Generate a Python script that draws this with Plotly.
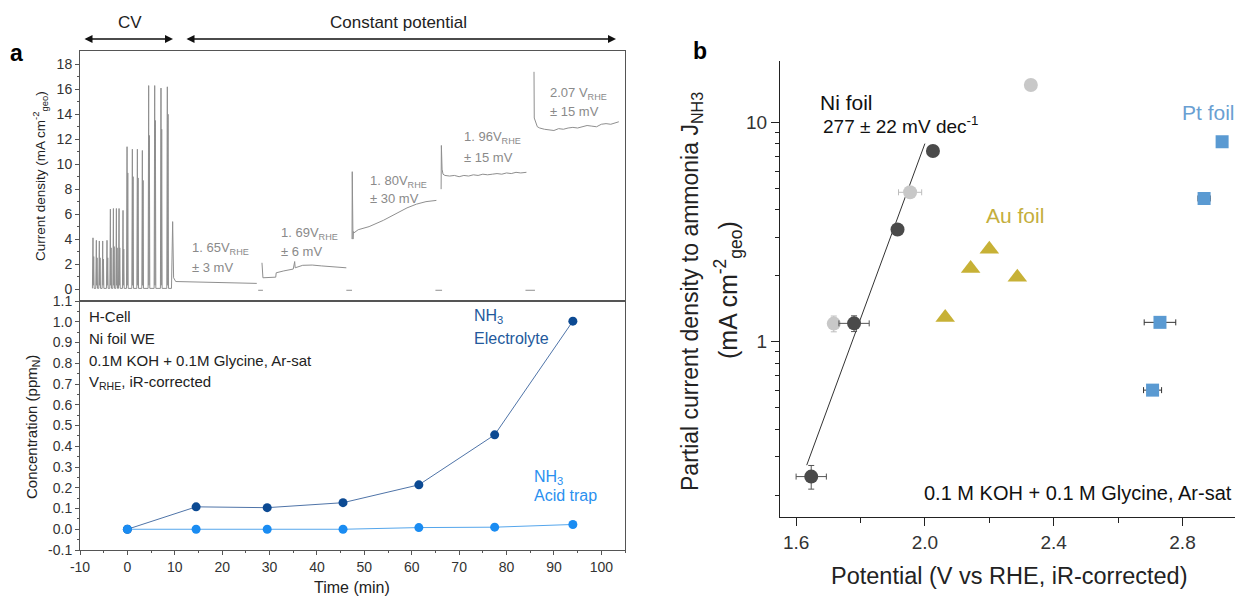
import plotly.graph_objects as go

W, H = 1235, 596
FONT = "Liberation Sans, Arial, sans-serif"

# ---------------- Panel a (top): current density trace ----------------
cv_peak_t = [-7.26, -6.55, -5.92, -5.21, -4.30, -3.59, -2.95, -2.32, -1.76, -0.92,
             -0.07, 1.05, 2.11, 3.16, 4.49, 5.76, 7.09, 8.43]
cv_peak_j = [4.1, 3.9, 3.85, 3.85, 3.9, 6.4, 6.45, 6.45, 6.45, 6.3,
             11.4, 11.2, 11.2, 11.1, 16.3, 16.3, 16.1, 16.2]
cv_inner_j = [2.6, 2.5, 2.5, 2.4, 2.5, 3.3, 3.4, 3.3, 3.3, 3.2,
              9.3, 9.0, 8.9, 8.7, 12.3, 13.5, 12.8, 14.0]

seg165_t = [9.3, 9.55, 9.75, 10.2, 12, 15, 18, 21, 24, 27.3]
seg165_j = [0.05, 5.4, 0.9, 0.6, 0.58, 0.55, 0.52, 0.5, 0.47, 0.45]
seg169_t = [28.4, 28.45, 28.6, 31.3, 31.4, 33, 35, 35.3, 35.4, 37, 39, 41, 43, 46.2]
seg169_j = [2.1, 0.95, 0.9, 0.95, 1.3, 1.45, 1.6, 2.2, 1.7, 1.9, 1.92, 1.85, 1.8, 1.7]
seg180_t = [47.4, 47.45, 47.6, 47.7, 47.8, 48.7, 51, 54, 57, 59, 61, 63, 65.2]
seg180_j = [4.0, 9.4, 4.0, 4.6, 4.5, 4.75, 5.0, 5.5, 6.1, 6.5, 6.8, 7.0, 7.1]
seg196_t = [66.2, 66.25, 66.4, 66.6, 67, 68, 69, 70, 71, 72, 73, 74, 75, 76, 77, 78, 79, 80, 81, 82, 83, 84.2]
seg196_j = [8.0, 11.5, 9.6, 9.2, 9.1, 9.05, 9.1, 9.0, 9.1, 9.05, 9.15, 9.1, 9.2, 9.15, 9.2, 9.25, 9.2, 9.3, 9.25, 9.35, 9.3, 9.35]
seg207_t = [85.8, 85.85, 86.5, 87, 88, 89, 90, 91, 92, 93, 94, 95, 96, 97, 98, 99, 100, 101, 102, 103, 103.7]
seg207_j = [17.4, 13.7, 13.0, 12.9, 12.8, 12.75, 12.7, 12.85, 12.8, 12.9, 12.95, 12.9, 13.0, 13.1, 13.05, 13.0, 13.2, 13.25, 13.2, 13.35, 13.4]
gap_t = [[27.6, 28.6], [46.2, 47.4], [65.0, 66.4], [84.0, 86.0]]
gap_j = -0.1

# ---------------- Panel a (bottom): concentration ----------------
time_min = [0, 14.5, 29.5, 45.5, 61.5, 77.5, 94]
nh3_electrolyte = [0.0, 0.108, 0.104, 0.128, 0.214, 0.455, 1.003]
nh3_acid_trap = [0.0, 0.0, 0.0, 0.0, 0.008, 0.01, 0.023]

# ---------------- Panel b ----------------
ni_x = [1.647, 1.780, 1.915, 2.025]
ni_y = [0.243, 1.213, 3.25, 7.4]
ni_xerr = [0.047, 0.047, 0, 0]
ni_yerr = [0.03, 0.1, 0, 0]
ni_light_x = [1.717, 1.954, 2.329]
ni_light_y = [1.21, 4.8, 14.8]
ni_light_xerr = [0, 0.036, 0]
ni_light_yerr = [0.1, 0, 0]
au_x = [2.063, 2.142, 2.200, 2.287]
au_y = [1.29, 2.16, 2.64, 1.97]
pt_x = [2.707, 2.730, 2.867, 2.923]
pt_y = [0.602, 1.226, 4.5, 8.16]
pt_xerr = [0.028, 0.049, 0.019, 0.015]
fit_x = [1.633, 2.0]
fit_y = [0.274, 8.0]

# build the current trace path
cur_t, cur_j = [], []
for t, h, hi in zip(cv_peak_t, cv_peak_j, cv_inner_j):
    cur_t += [t - 0.12, t, t + 0.06, t + 0.15, t + 0.24]
    cur_j += [0.05, h, 0.3, hi, 0.05]
cur_t += seg165_t
cur_j += seg165_j
for st, sj in [(seg169_t, seg169_j), (seg180_t, seg180_j), (seg196_t, seg196_j), (seg207_t, seg207_j)]:
    cur_t += [None] + st
    cur_j += [None] + sj
for g in gap_t:
    cur_t += [None] + g
    cur_j += [None, gap_j, gap_j]


def px(x):
    return x / W


def py(y):
    return 1 - y / H


fig = go.Figure()

GRAY = "#8f8f8f"
fig.add_trace(go.Scatter(x=cur_t, y=cur_j, mode="lines", line=dict(color=GRAY, width=1),
                         xaxis="x", yaxis="y", showlegend=False, hoverinfo="skip"))

fig.add_trace(go.Scatter(x=time_min, y=nh3_electrolyte, mode="lines+markers",
                         line=dict(color="#4f74a8", width=1),
                         marker=dict(color="#0c4a93", size=9),
                         xaxis="x2", yaxis="y2", showlegend=False))
fig.add_trace(go.Scatter(x=time_min, y=nh3_acid_trap, mode="lines+markers",
                         line=dict(color="#55a6ec", width=1),
                         marker=dict(color="#1a8cf2", size=9),
                         xaxis="x2", yaxis="y2", showlegend=False))

# panel b
fig.add_trace(go.Scatter(x=fit_x, y=fit_y, mode="lines", line=dict(color="#333333", width=1),
                         xaxis="x3", yaxis="y3", showlegend=False))
fig.add_trace(go.Scatter(x=ni_light_x, y=ni_light_y, mode="markers",
                         marker=dict(color="#c8c8c8", size=14),
                         error_x=dict(type="data", array=ni_light_xerr, color="#bdbdbd", thickness=1, width=3),
                         error_y=dict(type="data", array=ni_light_yerr, color="#bdbdbd", thickness=1, width=3),
                         xaxis="x3", yaxis="y3", showlegend=False))
fig.add_trace(go.Scatter(x=ni_x, y=ni_y, mode="markers",
                         marker=dict(color="#4a4a4a", size=14),
                         error_x=dict(type="data", array=ni_xerr, color="#555555", thickness=1, width=3),
                         error_y=dict(type="data", array=ni_yerr, color="#555555", thickness=1, width=3),
                         xaxis="x3", yaxis="y3", showlegend=False))
fig.add_trace(go.Scatter(x=au_x, y=au_y, mode="markers",
                         marker=dict(color="#c7b136", size=17, symbol="triangle-up"),
                         xaxis="x3", yaxis="y3", showlegend=False))
fig.add_trace(go.Scatter(x=pt_x, y=pt_y, mode="markers",
                         marker=dict(color="#5a9ad2", size=13, symbol="square"),
                         error_x=dict(type="data", array=pt_xerr, color="#333333", thickness=1, width=3),
                         xaxis="x3", yaxis="y3", showlegend=False))

AX_A = dict(showline=True, linecolor="#555555", linewidth=1, mirror=True, showgrid=False,
            zeroline=False, tickfont=dict(size=14, color="#333333", family=FONT),
            ticks="outside", ticklen=4, tickcolor="#555555", automargin=False)
xa_dom = [px(80), px(625)]
AX_B = dict(showline=True, linecolor="#222222", linewidth=1.3, showgrid=False, zeroline=False,
            tickfont=dict(size=19, color="#333333", family=FONT), ticks="outside",
            ticklen=8, tickcolor="#222222", tickwidth=1.2, automargin=False)

fig.update_layout(
    width=W, height=H, margin=dict(l=0, r=0, t=0, b=0, autoexpand=False),
    paper_bgcolor="white", plot_bgcolor="white",
    font=dict(family=FONT, color="#222222"),
    xaxis=dict(AX_A, domain=xa_dom, range=[-10, 105], anchor="y", showticklabels=False, ticks=""),
    yaxis=dict(AX_A, domain=[py(301), py(51)], range=[-0.96, 19.07], anchor="x",
               tickvals=[0, 2, 4, 6, 8, 10, 12, 14, 16, 18],
               minor=dict(ticks="outside", ticklen=2, tickvals=[1, 3, 5, 7, 9, 11, 13, 15, 17], tickcolor="#555555")),
    xaxis2=dict(AX_A, domain=xa_dom, range=[-10, 105], anchor="y2",
                tickvals=[-10, 0, 10, 20, 30, 40, 50, 60, 70, 80, 90, 100],
                ticktext=["-10", "0", "10", "20", "30", "40", "50", "60", "70", "80", "90", "100"],
                minor=dict(ticks="outside", ticklen=2, tickvals=[-5, 5, 15, 25, 35, 45, 55, 65, 75, 85, 95, 105],
                           tickcolor="#555555")),
    yaxis2=dict(AX_A, domain=[py(550), py(301)], range=[-0.1, 1.1], anchor="x2",
                tickvals=[-0.1, 0, 0.1, 0.2, 0.3, 0.4, 0.5, 0.6, 0.7, 0.8, 0.9, 1.0, 1.1],
                ticktext=["-0.1", "0.0", "0.1", "0.2", "0.3", "0.4", "0.5", "0.6", "0.7", "0.8", "0.9", "1.0", "1.1"],
                minor=dict(ticks="outside", ticklen=2, dtick=0.05, tick0=0.05, tickcolor="#555555")),
    xaxis3=dict(AX_B, domain=[px(780), 1.0], range=[1.550, 2.963], anchor="y3",
                tickvals=[1.6, 2.0, 2.4, 2.8], ticktext=["1.6", "2.0", "2.4", "2.8"],
                minor=dict(ticks="outside", ticklen=5, tickvals=[1.8, 2.2, 2.6], tickcolor="#222222")),
    xaxis4=dict(AX_B, domain=[px(780), 1.0], range=[1.550, 2.963], anchor="y3", overlaying="x3",
                side="top", ticks="inside", showticklabels=False,
                tickvals=[1.6, 1.8, 2.0, 2.2, 2.4, 2.6, 2.8]),
    yaxis3=dict(AX_B, domain=[py(517.3), py(60.7)], type="log", range=[-0.80, 1.281], anchor="x3",
                tickvals=[1, 10], ticktext=["1", "10"],
                minor=dict(ticks="outside", ticklen=4, tickcolor="#222222",
                           tickvals=[0.2, 0.3, 0.4, 0.5, 0.6, 0.7, 0.8, 0.9, 2, 3, 4, 5, 6, 7, 8, 9])),
)

ann = []


def A(x, y, text, size=13, color="#222222", xanchor="left", angle=0, bold=False):
    if bold:
        text = "<b>" + text + "</b>"
    ann.append(dict(x=px(x), y=py(y), xref="paper", yref="paper", text=text, showarrow=False,
                    xanchor=xanchor, yanchor="middle", textangle=angle,
                    font=dict(size=size, color=color, family=FONT)))


# panel labels
A(16, 53, "a", size=23, xanchor="center", bold=True, color="#000000")
A(700, 51, "b", size=23, xanchor="center", bold=True, color="#000000")

# arrows
ann.append(dict(x=px(173), y=py(39), ax=-90, ay=0, xref="paper", yref="paper", showarrow=True,
                arrowside="end+start", arrowhead=2, arrowsize=1, arrowwidth=1.6, arrowcolor="#111111", text=""))
ann.append(dict(x=px(616), y=py(39), ax=-431, ay=0, xref="paper", yref="paper", showarrow=True,
                arrowside="end+start", arrowhead=2, arrowsize=1, arrowwidth=1.6, arrowcolor="#111111", text=""))
A(130, 22, "CV", size=17, xanchor="center")
A(398, 22, "Constant potential", size=17, xanchor="center")

# panel a axis titles
A(40, 176, "Current density (mA cm<sup>-2</sup><sub>geo</sub>)", size=13.5, xanchor="center", angle=-90)
A(32, 427, "Concentration (ppm<sub>N</sub>)", size=15, xanchor="center", angle=-90)
A(352, 587, "Time (min)", size=16, xanchor="center")

# segment labels
AG = "#8a8a8a"
A(190, 248, "1. 65V<sub>RHE</sub>", size=13, color=AG)
A(190, 267, "± 3 mV", size=13, color=AG)
A(279, 233, "1. 69V<sub>RHE</sub>", size=13, color=AG)
A(279, 252, "± 6 mV", size=13, color=AG)
A(368, 182, "1. 80V<sub>RHE</sub>", size=13, color=AG)
A(368, 198, "± 30 mV", size=13, color=AG)
A(462, 138, "1. 96V<sub>RHE</sub>", size=13, color=AG)
A(462, 157, "± 15 mV", size=13, color=AG)
A(548, 93, "2.07 V<sub>RHE</sub>", size=13, color=AG)
A(548, 111, "± 15 mV", size=13, color=AG)

# bottom-left text
A(87, 316, "H-Cell", size=15)
A(87, 338, "Ni foil WE", size=15)
A(87, 360, "0.1M KOH + 0.1M Glycine, Ar-sat", size=15)
A(87, 382, "V<sub>RHE</sub>, iR-corrected", size=15)
A(472, 316, "NH<sub>3</sub>", size=16, color="#23599c")
A(472, 338, "Electrolyte", size=16, color="#23599c")
A(532, 477, "NH<sub>3</sub>", size=16, color="#2a90ef")
A(532, 495, "Acid trap", size=16, color="#2a90ef")

# panel b text
A(691, 292, "Partial current density to ammonia J<sub>NH3</sub>", size=23, xanchor="center", angle=-90)
A(728, 290, "(mA cm<sup>-2</sup><sub>geo</sub>)", size=25, xanchor="center", angle=-90)
A(1010, 576, "Potential (V vs RHE, iR-corrected)", size=23.5, xanchor="center")
A(818, 102, "Ni foil", size=21, color="#111111")
A(821, 125, "277 ± 22 mV dec<sup>-1</sup>", size=19, color="#111111")
A(984, 215, "Au foil", size=21, color="#c4ae3c")
A(1180, 113, "Pt foil", size=21, color="#6a9fd2")
A(1234, 493, "0.1 M KOH + 0.1 M Glycine, Ar-sat", size=20, xanchor="right", color="#111111")

fig.update_layout(annotations=ann)
fig.write_html("out.html")
